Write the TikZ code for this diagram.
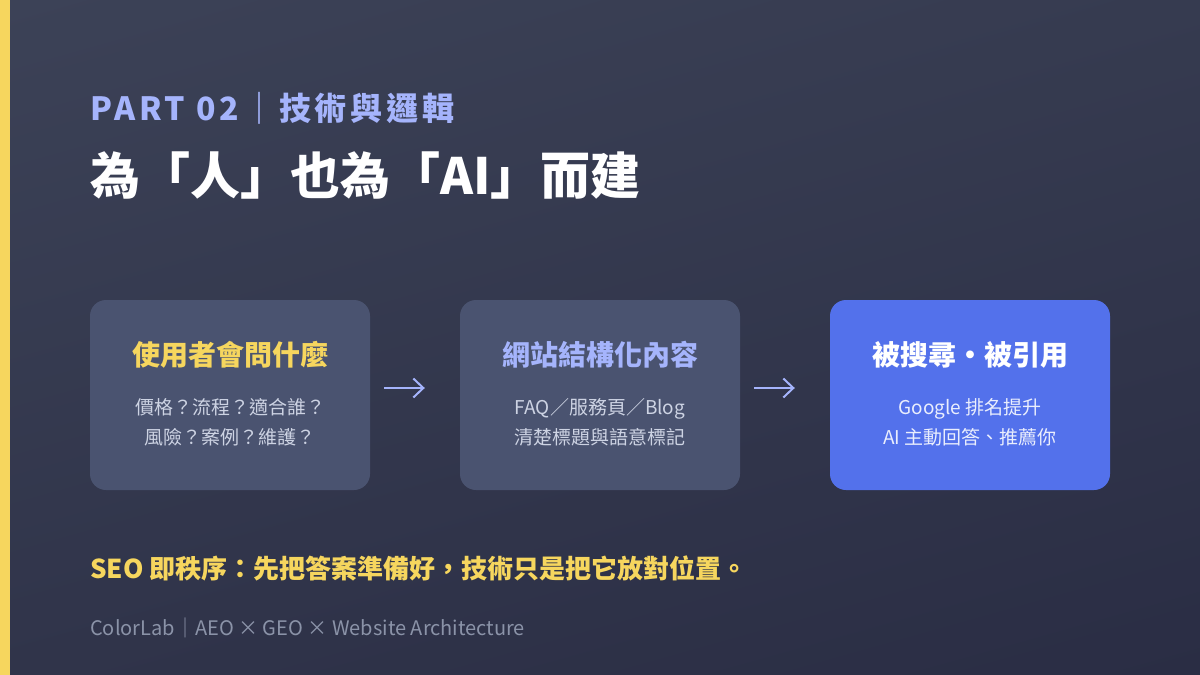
\documentclass[tikz,border=0pt]{standalone}
\usepackage{fontspec}
\setmainfont{Noto Sans CJK TC}
\usetikzlibrary{positioning,arrows.meta,shadings}

\definecolor{bgtl}{HTML}{3C4257}
\definecolor{bgtr}{HTML}{363B50}
\definecolor{bgbl}{HTML}{30344A}
\definecolor{bgbr}{HTML}{2A2D44}
\definecolor{bar}{HTML}{F6D65E}
\definecolor{lav}{HTML}{A5B4FC}
\definecolor{card}{HTML}{4A5370}
\definecolor{cardhi}{HTML}{5371EB}
\definecolor{soft}{HTML}{CDD3E3}
\definecolor{foot}{HTML}{8B93A8}

\newcommand{\fs}[2]{\fontsize{#1}{#2}\selectfont}

\begin{document}
\begin{tikzpicture}[x=1pt,y=-1pt,
  card/.style={fill=card,rounded corners=16pt,minimum width=280pt,minimum height=190pt,inner sep=0pt},
  cardtitle/.style={font=\fs{28}{32}\bfseries,inner sep=0pt},
  cardtext/.style={font=\fs{19}{30},text=soft,align=center,inner sep=0pt},
  flow/.style={draw=lav,line width=2pt,-{Straight Barb[length=10pt,width=19pt]}},
  line/.style={anchor=base west,inner sep=0pt}]
\useasboundingbox (0,0) rectangle (1200,675);
\shade[upper left=bgtl,upper right=bgtr,lower left=bgbl,lower right=bgbr] (0,0) rectangle (1200,675);
\fill[bar] (0,0) rectangle (10,675);

% heading
\node[line,text=lav,font=\fs{32}{36}\bfseries\addfontfeature{LetterSpace=12}] (part) at (90,120) {PART 02｜技術與邏輯};
\node[line,text=white,font=\fs{50}{60}\bfseries] (title) at (90,194) {為「人」也為「AI」而建};

% the three steps
\node[card] (ask) at (230,395) {};
\node[card] (site) at (600,395) {};
\node[card,fill=cardhi] (found) at (970,395) {};

\node[cardtitle,text=bar] (askt) at (230,355) {使用者會問什麼};
\node[cardtext] (askb) at (230,422) {價格？流程？適合誰？\\風險？案例？維護？};
\node[cardtitle,text=lav] (sitet) at (600,355) {網站結構化內容};
\node[cardtext] (siteb) at (600,422) {FAQ／服務頁／Blog\\清楚標題與語意標記};
\node[cardtitle,text=white] (foundt) at (970,355) {被搜尋・被引用};
\node[cardtext,text=white!88!cardhi] (foundb) at (970,422) {Google 排名提升\\AI 主動回答、推薦你};

\draw[flow] ([xshift=14pt,yshift=7pt]ask.east) -- ([xshift=-35pt,yshift=7pt]site.west);
\draw[flow] ([xshift=14pt,yshift=7pt]site.east) -- ([xshift=-35pt,yshift=7pt]found.west);

% bottom lines
\node[line,text=bar,font=\fs{26}{30}\bfseries] (motto) at (90,578) {SEO 即秩序：先把答案準備好，技術只是把它放對位置。};
\node[line,text=foot,font=\fs{20}{24}] (credit) at (90,635) {ColorLab｜AEO × GEO × Website Architecture};
\end{tikzpicture}
\end{document}
